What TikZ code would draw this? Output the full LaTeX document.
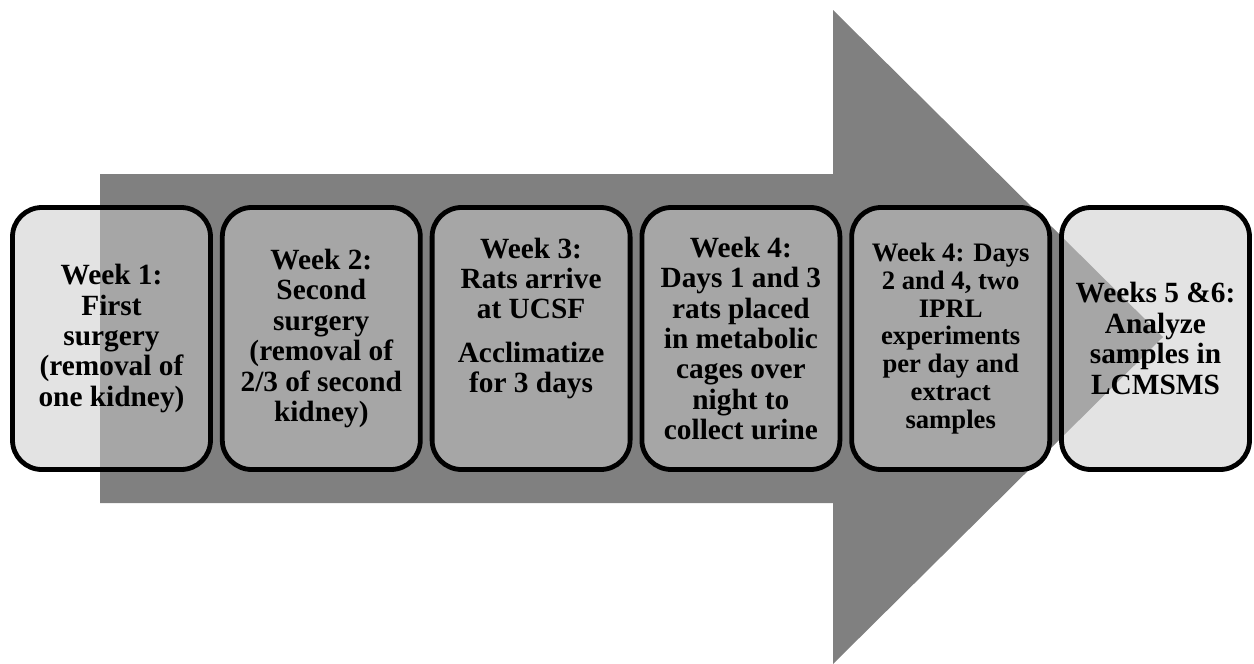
\documentclass[tikz,border=0pt]{standalone}
\usepackage{fontspec}
\setmainfont{Liberation Serif}
\usepackage{xcolor}
\usepackage{tikz}
\usetikzlibrary{positioning}

\definecolor{arrowgray}{gray}{0.5}
\definecolor{boxgray}{gray}{0.79}

\begin{document}
\begin{tikzpicture}[x=0.75pt, y=-0.75pt,
    week/.style={draw=black, line width=3.6pt, rounded corners=22pt,
        fill=boxgray, fill opacity=0.52, text opacity=1,
        minimum width=148.5pt, minimum height=196.5pt, align=center,
        inner sep=0pt, font=\fontsize{22}{22.8}\selectfont\bfseries},
    node distance=5.25pt]
\useasboundingbox (0,0) rectangle (1254,664);
\fill[arrowgray] (100,174) -- (833,174) -- (833,10) -- (1163,337)
    -- (833,664) -- (833,503) -- (100,503) -- cycle;
\node[week] (w1) at (111.5,338.5) {Week 1:\\First\\surgery\\(removal of\\one kidney)};
\node[week, right=of w1] (w2) {Week 2:\\Second\\surgery\\(removal of\\2/3 of second\\kidney)};
\node[week, right=of w2] (w3) {Week 3:\\Rats arrive\\at UCSF\\[10pt]Acclimatize\\for 3 days\\[12pt]\mbox{}};
\node[week, right=of w3] (w4) {Week 4:\\Days 1 and 3\\rats placed\\in metabolic\\cages over\\night to\\collect urine};
\node[week, right=of w4, font=\fontsize{20}{20.8}\selectfont\bfseries] (w5) {Week 4: Days\\2 and 4, two\\IPRL\\experiments\\per day and\\extract\\samples};
\node[week, right=of w5, minimum width=141pt] (w6) {Weeks 5 \&6:\\Analyze\\samples in\\LCMSMS};
\end{tikzpicture}
\end{document}
